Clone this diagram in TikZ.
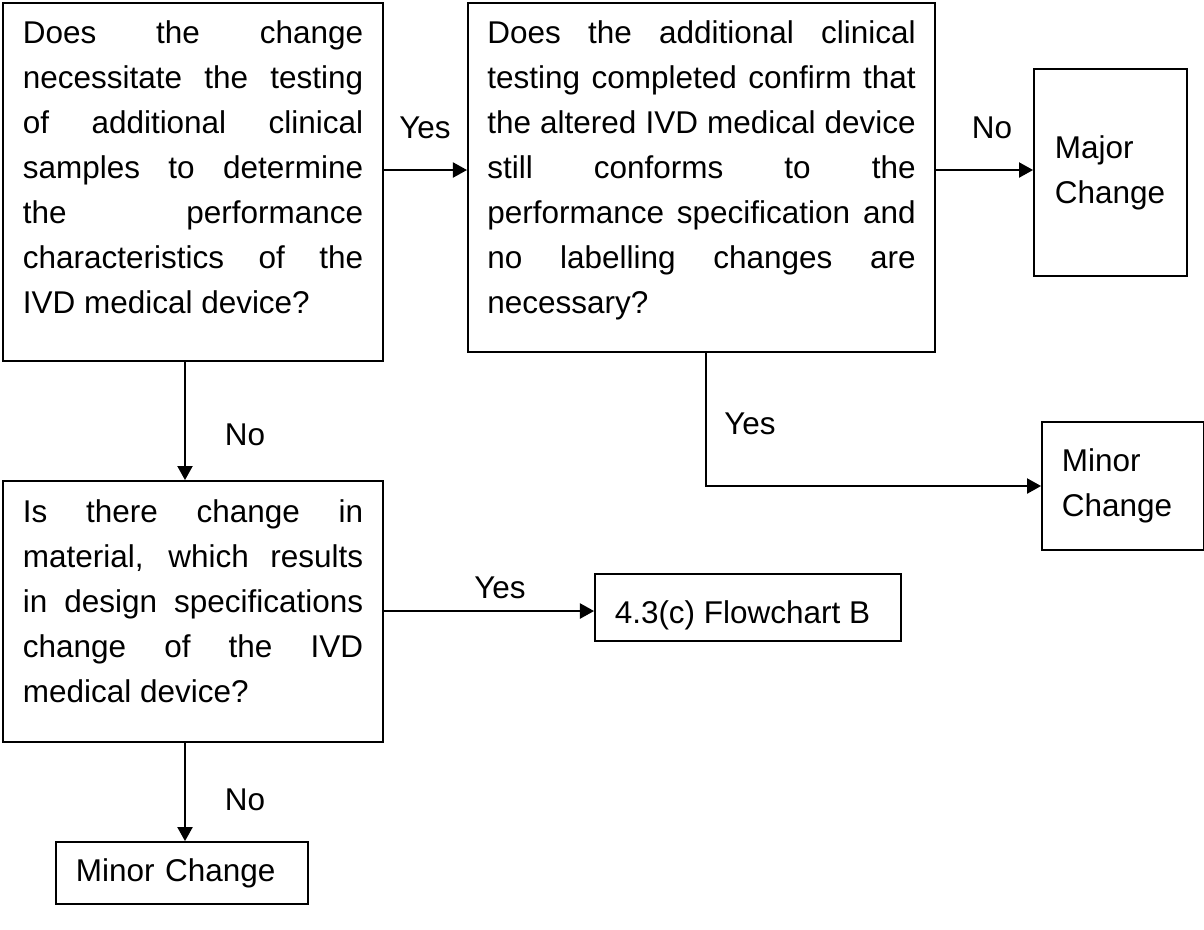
\documentclass[tikz,border=0pt]{standalone}
\usepackage{fontspec}
\setmainfont{Liberation Sans}
\usetikzlibrary{arrows.meta}
\begin{document}
\begin{tikzpicture}[x=0.01cm,y=-0.01cm,
  every node/.style={font=\fontsize{8.95pt}{12.8pt}\selectfont},
  frame/.style={draw,line width=0.5pt,inner sep=0pt},
  jtxt/.style={inner sep=0pt,align=justify},
  ltxt/.style={inner sep=0pt,align=left},
  lbox/.style={draw,line width=0.5pt,inner xsep=0.2cm,inner ysep=0pt,align=left},
  arr/.style={line width=0.5pt,-{Triangle[length=4pt,width=4.3pt]}},
  lbl/.style={inner sep=0pt}]
\useasboundingbox (0,0) rectangle (1204,929);
\node[frame,minimum width=3.80cm,minimum height=3.58cm] (A) at (193,182) {};
\node[jtxt,text width=3.40cm] (At) at ([yshift=0.15cm]A.center)
 {\hyphenpenalty=10000 Does the change\linebreak necessitate the testing\linebreak of additional clinical\linebreak samples to determine\linebreak the performance\linebreak characteristics of the\linebreak IVD medical device?};
\node[frame,minimum width=4.67cm,minimum height=3.49cm] (B) at (701.5,177.5) {};
\node[jtxt,text width=4.28cm] (Bt) at ([yshift=0.07cm]B.center)
 {\hyphenpenalty=10000 Does the additional clinical\linebreak testing completed confirm that\linebreak the altered IVD medical device\linebreak still conforms to the\linebreak performance specification and\linebreak no labelling changes are\linebreak necessary?};
\node[lbox,minimum width=1.53cm,minimum height=2.07cm,text width=1.11cm] (MJ) at (1110.5,172.5) {Major\\Change};
\node[lbox,minimum width=1.60cm,minimum height=1.28cm,text width=1.22cm] (MR) at (1123,486) {Minor\\Change};
\node[frame,minimum width=3.80cm,minimum height=2.61cm] (C) at (193,611.5) {};
\node[jtxt,text width=3.40cm] (Ct) at ([yshift=0.10cm]C.center)
 {\hyphenpenalty=10000 Is there change in\linebreak material, which results\linebreak in design specifications\linebreak change of the IVD\linebreak medical device?};
\node[frame,minimum width=3.06cm,minimum height=0.67cm] (FB) at (748,607.5) {};
\node[ltxt,anchor=west] (FBt) at ([xshift=0.2cm,yshift=-0.08cm]FB.west) {4.3(c) Flowchart B};
\node[lbox,minimum width=2.52cm,minimum height=0.62cm,text width=2.12cm] (MB) at (182,873) {Minor Change};
\coordinate (y1) at (0,170);
\coordinate (y2) at (0,611);
\coordinate (x1) at (185,0);
\coordinate (x2) at (706,0);
\draw[arr] (A.east |- y1) -- (B.west |- y1);
\draw[arr] (B.east |- y1) -- (MJ.west |- y1);
\draw[arr] (A.south -| x1) -- (C.north -| x1);
\draw[arr] (B.south -| x2) |- (MR.west);
\draw[arr] (C.east |- y2) -- (FB.west |- y2);
\draw[arr] (C.south -| x1) -- (MB.north -| x1);
\node[lbl] (l1) at (425,128) {Yes};
\node[lbl] (l2) at (992,128) {No};
\node[lbl] (l3) at (245,435) {No};
\node[lbl] (l4) at (750,424) {Yes};
\node[lbl] (l5) at (500,588) {Yes};
\node[lbl] (l6) at (245,800) {No};
\end{tikzpicture}
\end{document}
